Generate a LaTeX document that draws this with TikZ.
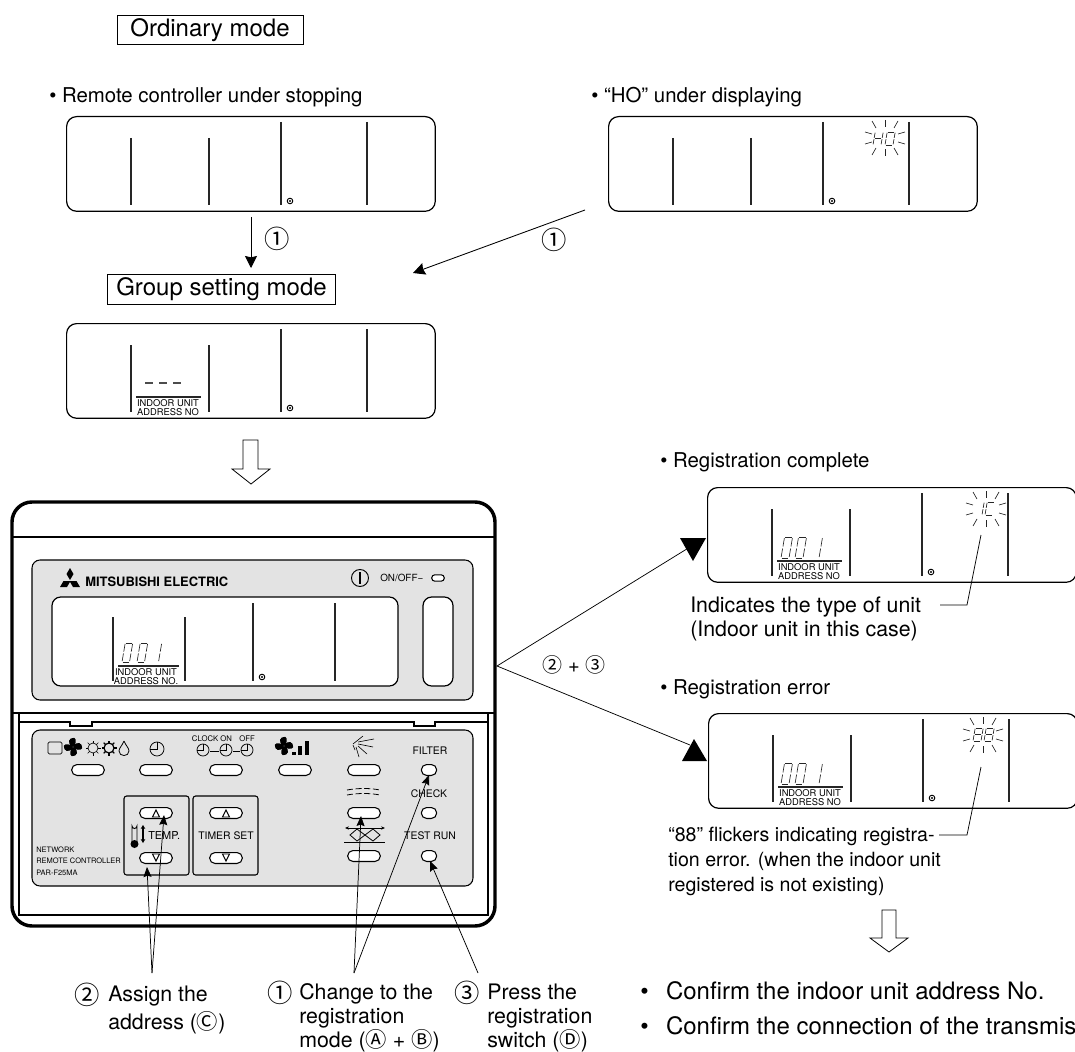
\documentclass[tikz,border=0pt]{standalone}
\usepackage{fontspec}
\setmainfont{TeX Gyre Heros}
\newfontfamily\ringfont{Noto Sans CJK JP}
\usetikzlibrary{arrows.meta}

\newcommand{\ring}[1]{{\ringfont #1}}
\newcommand{\segzero}{.1/1/.9/1,1/.95/1/.55,1/.45/1/.05,.1/0/.9/0,0/.05/0/.45,0/.55/0/.95}
\newcommand{\segone}{1/.95/1/.55,1/.45/1/.05}
\newcommand{\segeight}{.1/1/.9/1,1/.95/1/.55,1/.45/1/.05,.1/0/.9/0,0/.05/0/.45,0/.55/0/.95,.1/.5/.9/.5}
\newcommand{\segaitch}{1/.95/1/.55,1/.45/1/.05,0/.05/0/.45,0/.55/0/.95,.1/.5/.9/.5}
\newcommand{\segcee}{.1/1/.9/1,.1/0/.9/0,0/.05/0/.45,0/.55/0/.95}
% left, bottom, width, height, segments
\newcommand{\lcdchar}[5]{%
  \foreach \sa/\sb/\sc/\sd in #5
    \draw[segline] ({#1+\sa*#3+\sb*#4*.17},{#2-\sb*#4}) -- ({#1+\sc*#3+\sd*#4*.17},{#2-\sd*#4});
}
\newcommand{\lcdpanel}[3]{%
  \node[lcd] (#1) at (#2,#3) {};
  \begin{scope}[shift={(#2,#3)}]
    \foreach \lx/\ly in {65/22,143/22,215/6,301/6}
      \draw[lcdline] (\lx,\ly) -- (\lx,89);
    \node[lcdmark] (#1mark) at (224,85) {};
    \fill (#1mark.center) circle (1.2);
  \end{scope}
}
\newcommand{\lcdaddr}[2]{%
  \begin{scope}[shift={(#1,#2)}]
    \draw[lcdline] (70,74) -- (135,74);
    \node[lcdtext] at (102,84.5) {INDOOR UNIT\\ADDRESS NO};
  \end{scope}
}
\newcommand{\lcdflash}[2]{%
  \begin{scope}[shift={(#1,#2)}]
    \foreach \ra/\rb/\rc/\rd in {0/-18/0/-11,0/18/0/11,-13/-17/-9/-10,13/-17/9/-10,-13/17/-9/10,13/17/9/10,-20/-6/-13/-4,20/-6/13/-4,-20/6/-13/4,20/6/13/4}
      \draw[segline] (\ra,\rb) -- (\rc,\rd);
  \end{scope}
}
\newcommand{\fanicon}[2]{%
  \begin{scope}[shift={(#1,#2)}]
    \foreach \fa in {-20,70,160,250}
      \fill[rotate=\fa] (0,0) .. controls (1,-8) and (8,-7) .. (9,-2) .. controls (9,1) and (3,2) .. (0,0);
  \end{scope}
}
\newcommand{\clockicon}[3]{%
  \begin{scope}[shift={(#1,#2)}]
    \draw[line width=.55pt] (0,0) circle (#3);
    \draw[line width=.55pt] (-#3,0) -- (0,0) -- (0,-#3);
  \end{scope}
}
\newcommand{\sunicon}[3]{%
  \begin{scope}[shift={(#1,#2)}]
    \draw[line width=#3] (0,0) circle (5);
    \foreach \sn in {0,45,...,315}
      \draw[line width=#3,rotate=\sn] (5,0) -- (7.5,0);
  \end{scope}
}

\tikzset{
  lcd/.style={draw,line width=.9pt,rounded corners=7.5pt,anchor=north west,inner sep=0pt,
    minimum width=276.5pt,minimum height=71pt},
  lcdline/.style={line width=.85pt,black!85},
  segline/.style={line width=.5pt,black!85},
  lcdmark/.style={circle,draw,line width=.7pt,fill=white,inner sep=0pt,minimum size=4.2pt},
  lcdtext/.style={align=center,inner sep=0pt,font=\fontsize{7}{6.3}\selectfont},
  tagbox/.style={draw,line width=.6pt,inner sep=0pt,font=\fontsize{18}{20}\selectfont},
  lbl/.style={anchor=base west,inner sep=0pt,font=\fontsize{16}{19}\selectfont},
  headlbl/.style={anchor=base west,inner sep=0pt,font=\fontsize{15.3}{19}\selectfont},
  notelbl/.style={anchor=base west,inner sep=0pt,font=\fontsize{14.7}{19}\selectfont},
  biglbl/.style={anchor=base west,inner sep=0pt,font=\fontsize{18}{20}\selectfont},
  ringlbl/.style={inner sep=0pt,font=\fontsize{19}{21}\selectfont},
  flowarrow/.style={line width=.65pt,-{Stealth[length=9pt,width=9pt,inset=1pt]}},
  pointer/.style={line width=.55pt,-{Stealth[length=7.5pt,width=6pt,inset=1pt]}},
  thinline/.style={line width=.55pt},
  hollow/.style={draw,line width=.6pt,fill=white},
  facepanel/.style={draw,line width=.8pt,fill=black!11,rounded corners=6pt},
  wideknob/.style={draw,line width=.8pt,fill=white,rounded corners=4pt,inner sep=0pt,
    minimum width=24.5pt,minimum height=8.2pt},
  roundknob/.style={draw,line width=.8pt,fill=white,rounded corners=4pt,inner sep=0pt,
    minimum width=11.5pt,minimum height=8.2pt},
  keybox/.style={draw,line width=.8pt,rounded corners=2pt},
  keytext/.style={inner sep=0pt,font=\fontsize{7.8}{10}\selectfont},
  smalltext/.style={inner sep=0pt,font=\fontsize{5.8}{7}\selectfont},
}

\begin{document}
\begin{tikzpicture}[x=0.75pt,y=-0.75pt]
  \useasboundingbox (0,0) rectangle (1075,1052);

  % upper left column
  \node[tagbox,minimum width=139.5pt,minimum height=21.5pt] (ordinary) at (210,30) {Ordinary mode};
  \node[headlbl] (stoptext) at (49,103) {\textbullet\ Remote controller under stopping};
  \node[headlbl] (hotext) at (591,103) {\textbullet\ “HO” under displaying};
  \lcdpanel{stoppanel}{66}{116}
  \lcdpanel{hopanel}{608}{116}
  \lcdflash{885}{138}
  \lcdchar{873}{145}{8}{13}{\segaitch}
  \lcdchar{885}{145}{8}{13}{\segzero}

  \node[tagbox,minimum width=171.5pt,minimum height=22.5pt] (groupmode) at (221.5,289) {Group setting mode};
  \coordinate (hostart) at (585,210);
  \coordinate (hoend) at (413,273);
  \coordinate (stopstart) at (251,217);
  \coordinate (stopend) at (251,268);
  \draw[flowarrow] (stopstart) -- (stopend);
  \draw[flowarrow] (hostart) -- (hoend);
  \node[ringlbl] (stepa) at (277,239) {\ring{①}};
  \node[ringlbl] (stepb) at (554,240) {\ring{①}};

  \lcdpanel{grouppanel}{66}{323}
  \lcdaddr{66}{323}
  \foreach \dx in {145,159,173}
    \draw[line width=1pt,black!70] (\dx,383) -- ({\dx+8},383);
  \draw[hollow] (243,440) -- (258,440) -- (258,469) -- (270,469) -- (251,484) -- (232,469) -- (243,469) -- cycle;

  % controller
  \draw[line width=2.6pt,rounded corners=15pt] (12,502) rectangle (495,926);
  \draw[line width=.8pt] (12,537) -- (495,537);
  \draw[line width=.8pt] (12,713) -- (495,713);
  \draw[line width=.8pt] (19,713) -- (19,915) -- (488,915) -- (488,713);
  \draw[line width=.8pt] (19,722) -- (70,722) -- (70,726) -- (92,726) -- (92,722) -- (414,722) -- (414,726) -- (435,726) -- (435,722) -- (488,722);

  \draw[facepanel] (32,560) rectangle (473,700);
  \fill (70,568) -- (73.5,574) -- (70,580) -- (66.5,574) -- cycle;
  \fill (60,587) -- (63.5,581) -- (70.5,581) -- (67,587) -- cycle;
  \fill (80,587) -- (76.5,581) -- (69.5,581) -- (73,587) -- cycle;
  \node[inner sep=0pt,anchor=base west,font=\fontsize{9.7}{12}\selectfont\bfseries] (brand) at (85,586) {MITSUBISHI ELECTRIC};
  \draw[line width=.7pt] (360,578) circle (8.5);
  \draw[line width=.9pt] (360,572) -- (360,584);
  \node[smalltext,anchor=west,font=\fontsize{7.4}{8}\selectfont] (onoff) at (380,578) {ON/OFF−};
  \node[roundknob,minimum width=9.5pt,minimum height=4.8pt,rounded corners=2.4pt] (onoffknob) at (438,578) {};
  \draw[line width=.9pt,fill=white,rounded corners=6.5pt] (52,597) rectangle (398,686);
  \draw[line width=.9pt,fill=white,rounded corners=6.5pt] (423,597) rectangle (453,686);
  \draw[lcdline] (113,617) -- (113,681);
  \draw[lcdline] (185,617) -- (185,681);
  \draw[lcdline] (253,603) -- (253,681);
  \draw[lcdline] (335,603) -- (335,681);
  \node[lcdmark] (facemark) at (262,677) {};
  \fill (facemark.center) circle (1.2);
  \lcdchar{122}{662}{7.5}{19}{\segzero}
  \lcdchar{137}{662}{7.5}{19}{\segzero}
  \lcdchar{151}{662}{7.5}{19}{\segone}
  \draw[lcdline] (118,666) -- (179,666);
  \node[lcdtext] at (146,676.5) {INDOOR UNIT\\ADDRESS NO.};

  \draw[facepanel] (32,730) rectangle (473,886);
  \draw[line width=.6pt,rounded corners=1pt] (48,742) rectangle (62,754);
  \fanicon{73}{747}
  \sunicon{93}{748}{.5pt}
  \sunicon{109}{748}{.9pt}
  \draw[line width=.6pt] (124,741) .. controls (122,746) and (119,748) .. (119,751) .. controls (119,757) and (129,757) .. (129,751) .. controls (129,748) and (126,746) .. (124,741);
  \clockicon{157}{749}{7}
  \node[smalltext] (clockon) at (212,739) {CLOCK ON};
  \node[smalltext] (clockoff) at (247,739) {OFF};
  \clockicon{203}{750}{6}
  \clockicon{226}{750}{6}
  \clockicon{247}{750}{6}
  \draw[line width=.7pt] (210,751) -- (219,751);
  \draw[line width=.7pt] (233,751) -- (240,751);
  \fanicon{284}{746}
  \fill (292,752) rectangle (296,755);
  \fill (298,746) rectangle (302,755);
  \fill (305,741) rectangle (309,755);
  \draw[line width=.45pt] (353,745) -- (355,750);
  \draw[line width=.45pt] (353,744) -- (363,736);
  \draw[line width=.45pt] (358,742) -- (374,739);
  \draw[line width=.45pt] (358,744) -- (373,747);
  \draw[line width=.45pt] (358,746) -- (367,754);
  \draw[line width=.45pt] (356,747) -- (359,757);
  \draw[line width=.6pt,dash pattern=on 4.5pt off 2pt] (347,790) .. controls (358,788) and (370,788) .. (380,790);
  \draw[line width=.6pt,dash pattern=on 4.5pt off 2pt] (347,795) .. controls (358,793) and (370,793) .. (380,795);
  \draw[line width=.6pt] (350,835) -- (357,829) -- (365,835) -- (357,841) -- cycle;
  \draw[line width=.6pt] (365,835) -- (373,829) -- (380,835) -- (373,841) -- cycle;
  \draw[line width=.5pt,{Stealth[length=3pt,width=2.5pt]}-{Stealth[length=3pt,width=2.5pt]}] (345,828) -- (385,828);
  \draw[line width=.5pt] (344,842) -- (385,842);

  \foreach \bn/\bx in {modeknob/88,clockknob/156,timerknob/226,fanknob/295,louverknob/364}
    \node[wideknob] (\bn) at (\bx,770) {};
  \node[roundknob] (filterknob) at (429,770) {};
  \node[keytext] (filterlabel) at (430,751) {FILTER};

  \draw[keybox] (124,796) rectangle (189,875);
  \draw[keybox] (193,796) rectangle (258,875);
  \node[wideknob] (tempup) at (156,813) {};
  \node[wideknob] (tempdown) at (156,858) {};
  \node[wideknob] (timerup) at (226,813) {};
  \node[wideknob] (timerdown) at (226,858) {};
  \foreach \tx in {156,226} {
    \draw[line width=.7pt] (\tx-3.5,817) -- (\tx,810) -- (\tx+3.5,817) -- cycle;
    \draw[line width=.7pt] (\tx-3.5,854) -- (\tx,861) -- (\tx+3.5,854) -- cycle;
  }
  \node[keytext,anchor=west,font=\fontsize{8.2}{10}\selectfont] (templabel) at (148,836) {TEMP.};
  \node[keytext] (timerlabel) at (226,836) {TIMER SET};
  \draw[line width=.7pt] (132,842) -- (132,826) arc (180:0:2.5) -- (137,842);
  \fill (134.5,844) circle (4);
  \draw[line width=.9pt,{Stealth[length=3pt,width=3.5pt]}-{Stealth[length=3pt,width=3.5pt]}] (143,825) -- (143,843);
  \node[smalltext,anchor=west,align=left,font=\fontsize{5.6}{8.6}\selectfont] (modelname) at (36,861) {NETWORK\\REMOTE CONTROLLER\\PAR-F25MA};

  \node[wideknob] (swingknob) at (364,813) {};
  \node[wideknob] (ventknob) at (364,856) {};
  \node[roundknob] (checkknob) at (429,813) {};
  \node[roundknob] (testknob) at (429,856) {};
  \node[keytext] (checklabel) at (429,794) {CHECK};
  \node[keytext] (testlabel) at (430,836) {TEST RUN};

  % leaders from the captions
  \coordinate (assignapex) at (152,973);
  \coordinate (changeapex) at (354,973);
  \coordinate (pressapex) at (478,973);
  \draw[pointer] (assignapex) -- ([shift={(-9,9)}]tempdown.center);
  \draw[pointer] (assignapex) -- ([shift={(8,2)}]tempup.center);
  \draw[pointer] (changeapex) -- ([shift={(-3,3)}]swingknob.center);
  \draw[pointer] (changeapex) -- ([shift={(0,5)}]filterknob.center);
  \draw[pointer] (pressapex) -- ([shift={(1,5)}]testknob.center);

  \node[lbl] (assigna) at (108,1001) {Assign the};
  \node[lbl] (assignb) at (108,1029) {address (\ring{Ⓒ})};
  \node[lbl] (changea) at (299,999) {Change to the};
  \node[lbl] (changeb) at (299,1023) {registration};
  \node[lbl] (changec) at (299,1047) {mode (\ring{Ⓐ} + \ring{Ⓑ})};
  \node[lbl] (pressa) at (487,999) {Press the};
  \node[lbl] (pressb) at (487,1023) {registration};
  \node[lbl] (pressc) at (487,1047) {switch (\ring{Ⓓ})};
  \node[ringlbl] (assignno) at (87,995) {\ring{②}};
  \node[ringlbl] (changeno) at (280,993) {\ring{①}};
  \node[ringlbl] (pressno) at (467,993) {\ring{③}};

  % right column
  \coordinate (split) at (497,666);
  \coordinate (okpoint) at (690,547);
  \coordinate (errpoint) at (690,745);
  \draw[thinline] (okpoint) -- (split) -- (errpoint);
  \fill (680,538) -- (706,538) -- (693,561) -- cycle;
  \fill (682,761) -- (707,761) -- (694,739) -- cycle;
  \node[inner sep=0pt,font=\fontsize{15}{18}\selectfont] (keysum) at (574,665) {\ring{②} + \ring{③}};

  \node[headlbl] (oktext) at (660,467) {\textbullet\ Registration complete};
  \lcdpanel{okpanel}{707}{487}
  \lcdaddr{707}{487}
  \lcdflash{986}{509}
  \lcdchar{781}{558}{8}{21}{\segzero}
  \lcdchar{795}{558}{8}{21}{\segzero}
  \lcdchar{811}{558}{8}{21}{\segone}
  \lcdchar{974}{515}{8}{13}{\segone}
  \lcdchar{985}{515}{8}{13}{\segcee}
  \coordinate (okflash) at (981,535);
  \coordinate (okbend) at (967,605);
  \coordinate (okleader) at (940,605);
  \draw[thinline] (okflash) -- (okbend) -- (okleader);
  \node[lbl] (oknotea) at (690,612) {Indicates the type of unit};
  \node[lbl] (oknoteb) at (690,636) {(Indoor unit in this case)};

  \node[headlbl] (errtext) at (660,694) {\textbullet\ Registration error};
  \lcdpanel{errpanel}{708}{713}
  \lcdaddr{708}{713}
  \lcdflash{983}{735}
  \lcdchar{781}{784}{8}{21}{\segzero}
  \lcdchar{795}{784}{8}{21}{\segzero}
  \lcdchar{811}{784}{8}{21}{\segone}
  \lcdchar{973}{741}{8}{13}{\segeight}
  \lcdchar{984}{741}{8}{13}{\segeight}
  \coordinate (errflash) at (981,767);
  \coordinate (errbend) at (967,835);
  \coordinate (errleader) at (939,835);
  \draw[thinline] (errflash) -- (errbend) -- (errleader);
  \node[notelbl] (errnotea) at (668,841) {“88” flickers indicating registra-};
  \node[notelbl] (errnoteb) at (668,866) {tion error. (when the indoor unit};
  \node[notelbl] (errnotec) at (668,891) {registered is not existing)};

  \draw[hollow] (882,910) -- (896,910) -- (896,938) -- (908,938) -- (889,952) -- (870,938) -- (882,938) -- cycle;
  \node[biglbl] (confirma) at (640,999) {\textbullet\hspace{13pt}Confirm the indoor unit address No.};
  \node[biglbl] (confirmb) at (640,1034) {\textbullet\hspace{13pt}Confirm the connection of the transmis};
\end{tikzpicture}
\end{document}
